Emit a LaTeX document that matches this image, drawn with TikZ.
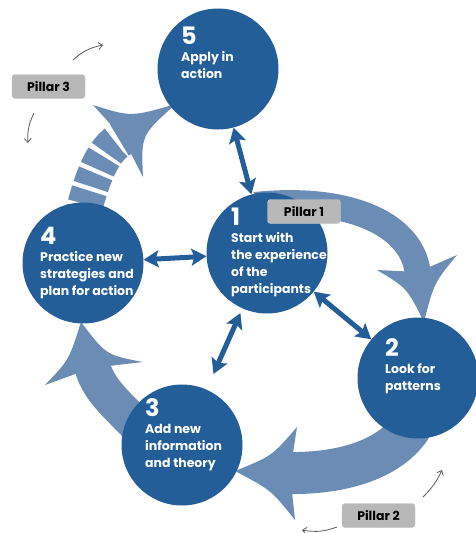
\documentclass[tikz,border=0pt]{standalone}
\usepackage{fontspec}
\setmainfont{Poppins}
\usetikzlibrary{arrows.meta,calc,positioning}

\definecolor{stageblue}{RGB}{36,94,153}
\definecolor{flowblue}{RGB}{107,140,181}
\definecolor{pillargray}{RGB}{184,184,184}

\tikzset{
  stage/.style={circle, fill=stageblue, minimum size=121pt, inner sep=0pt},
  stagetext/.style={anchor=north west, inner sep=0pt, align=left, text=white,
    font=\fontsize{12.5}{17}\selectfont\bfseries},
  link/.style={stageblue, line width=5pt,
    {Stealth[length=15pt,width=17pt,inset=3pt]}-{Stealth[length=15pt,width=17pt,inset=3pt]}},
  flow/.style={fill=flowblue},
  shaft/.style={draw=flowblue},
  pillar/.style={fill=pillargray, draw=black!22, rounded corners=3pt, minimum width=73pt,
    minimum height=24pt, inner sep=0pt, font=\fontsize{12.5}{14}\selectfont\bfseries},
  note/.style={black!65, line width=0.8pt, -{Straight Barb[length=4pt,width=7pt]}}
}
\newcommand{\bignum}[1]{{\fontsize{24}{24}\selectfont #1}}

\begin{document}
\begin{tikzpicture}[x=1pt,y=-1pt]
  \useasboundingbox (0,0) rectangle (475,533);

  % big cycle arrows, behind the stages
  \draw[shaft, line width=26pt] (255,205) .. controls (350,195) and (415,225) .. (418,276);
  \fill[flow] (424,322) .. controls (434,283) .. (457,255) -- (418,272) -- (377,270)
    .. controls (407,288) .. (424,322) -- cycle;

  \draw[shaft, line width=42pt] (415,420) .. controls (395,460) and (340,474) .. (288,473);
  \fill[flow] (235,471) .. controls (272,456) .. (297,427) -- (290,473) -- (295,520)
    .. controls (271,490) .. (235,471) -- cycle;

  \draw[shaft, line width=36pt] (145,435) .. controls (125,410) and (100,395) .. (92,366);
  \fill[flow] (81,322) .. controls (69,360) .. (45,385) -- (92,368) -- (143,362)
    .. controls (106,355) .. (81,322) -- cycle;

  % striped one
  \draw[shaft, line width=36pt, dash pattern=on 14pt off 4.5pt, dash phase=15.5pt]
    (80,225) .. controls (90,185) and (100,150) .. (123,138);
  \fill[flow] (176,104) .. controls (131,117) .. (93,105) -- (123,138) -- (143,177)
    .. controls (141,135) .. (176,104) -- cycle;

  % stages
  \node[stage] (c5) at (218,69) {};
  \node[stage] (c1) at (267,253) {};
  \node[stage] (c4) at (83,263) {};
  \node[stage] (c2) at (418,378) {};
  \node[stage] (c3) at (182,445) {};

  \draw[link] (c5) -- (c1);
  \draw[link] (c4) -- (c1);
  \draw[link] (c1) -- (c2);
  \draw[link, shorten <=5pt, shorten >=17pt] (c1) -- (c3);

  \node[stagetext] (t5) at (181,27) {\bignum{5}\\Apply in\\action};
  \node[stagetext] (t1) at (231,208) {\bignum{1}\\Start with\\the experience\\of the\\participants};
  \node[stagetext] (t4) at (40,227) {\bignum{4}\\Practice new\\strategies and\\plan for action};
  \node[stagetext] (t2) at (385,338) {\bignum{2}\\Look for\\patterns};
  \node[stagetext] (t3) at (145,398) {\bignum{3}\\Add new\\information\\and theory};

  % pillars
  \node[pillar] (p3) at (48.5,86.5) {Pillar 3};
  \node[pillar] (p1) at (304,211.5) {Pillar 1};
  \node[pillar] (p2) at (378.5,515.5) {Pillar 2};

  \coordinate (n3a) at (73,60);   \coordinate (n3b) at (103,45);
  \coordinate (n3c) at (34,113);  \coordinate (n3d) at (28,143);
  \coordinate (n2a) at (337,527); \coordinate (n2b) at (302,530);
  \coordinate (n2c) at (423,497); \coordinate (n2d) at (442,470);
  \draw[note] (n3a) to[bend left=15] (n3b);
  \draw[note] (n3c) to[bend right=15] (n3d);
  \draw[note] (n2a) to[bend left=15] (n2b);
  \draw[note] (n2c) to[bend right=10] (n2d);
\end{tikzpicture}
\end{document}
